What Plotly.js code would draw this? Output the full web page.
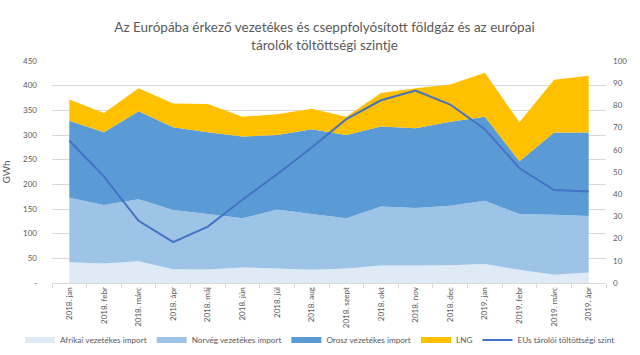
<!DOCTYPE html>
<html>
<head>
<meta charset="utf-8">
<script src="https://cdn.plot.ly/plotly-3.0.1.min.js"></script>
<style>html,body{margin:0;padding:0;background:#fff;}#chart{width:640px;height:355px;}</style>
</head>
<body>
<div id="chart"></div>
<script>
const months = ["2018. jan","2018. febr","2018. márc","2018. ápr","2018. máj","2018. jún","2018. júl","2018. aug","2018. szept","2018. okt","2018. nov","2018. dec","2019. jan","2019. febr","2019. márc","2019. ápr"];
const afrikai = [42, 39.6, 44, 28, 27.4, 31.5, 29.5, 26.8, 29.5, 35.5, 35.5, 36, 38.3, 26.8, 16.7, 21.4];
const norveg  = [130.6, 118.3, 126, 119.8, 112.3, 99.5, 119.5, 113.2, 101.5, 119.5, 116.3, 120.5, 128.2, 112.9, 121.6, 114.3];
const orosz   = [156.4, 147.8, 178, 167.9, 166, 166, 151, 171.7, 169, 162, 161.9, 170.5, 170.5, 107.3, 166.7, 169.3];
const lng     = [43, 39, 47, 48.3, 57.3, 40, 42, 41.7, 37, 68, 81.3, 75.4, 89, 78.8, 107, 115];
const tarolo  = [64.2, 47.9, 28, 18.4, 25.4, 37.5, 49, 61, 73.8, 82.3, 86.7, 80.4, 69.3, 51.7, 41.9, 41.2];
const leftTicks = [0, 50, 100, 150, 200, 250, 300, 350, 400, 450];
const leftTickText = ["-", "50", "100", "150", "200", "250", "300", "350", "400", "450"];

const FONT = "Lato, 'Open Sans', sans-serif";
const GREY = "#595959";

function area(name, y, color, legend) {
  return {type: "scatter", mode: "none", x: months, y: y, name: name, stackgroup: "gas", legend: legend,
          fillcolor: color, line: {width: 0, color: color}, hoverinfo: "skip"};
}

const traces = [
  area("Afrikai vezetékes import", afrikai, "#DEEBF7", "legend"),
  area("Norvég vezetékes import", norveg, "#9DC3E6", "legend"),
  area("Orosz vezetékes import", orosz, "#5B9BD5", "legend"),
  area("LNG", lng, "#FFC000", "legend2"),
  {type: "scatter", mode: "lines", x: months, y: tarolo, name: "EUs tárolói töltöttségi szint", legend: "legend2",
   yaxis: "y2", line: {color: "#4472C4", width: 2}}
];

const legendCommon = {orientation: "h", xanchor: "left", xref: "container", y: 15 / 355, yref: "container",
  yanchor: "middle", bgcolor: "rgba(0,0,0,0)", font: {size: 8.2, color: GREY}, itemwidth: 30,
  tracegroupgap: 0, traceorder: "normal"};

const layout = {
  width: 640, height: 355,
  margin: {l: 52, r: 34, t: 61, b: 72},
  paper_bgcolor: "#ffffff", plot_bgcolor: "#ffffff",
  font: {family: FONT, color: GREY, size: 9},
  title: {text: "Az Európába érkező vezetékes és cseppfolyósított földgáz és az európai<br>tárolók töltöttségi szintje",
          font: {family: FONT, size: 13.5, color: GREY}, x: 0.507, xanchor: "center",
          y: 1 - 32 / 355, yanchor: "middle", yref: "container"},
  showlegend: true,
  legend: Object.assign({}, legendCommon, {x: 20 / 640}),
  legend2: Object.assign({}, legendCommon, {x: 416 / 640}),
  xaxis: {type: "category", range: [-0.5, 15.5], showgrid: false, showline: true, linecolor: "#d9d9d9", linewidth: 1,
          ticks: "outside", tickson: "boundaries", ticklen: 4, tickcolor: "#d9d9d9", tickangle: -90,
          tickfont: {size: 8, color: GREY}, fixedrange: true},
  yaxis: {range: [0, 450], tickvals: leftTicks, ticktext: leftTickText, showgrid: true, gridcolor: "#d9d9d9", gridwidth: 1,
          zeroline: false, showline: false, ticks: "", tickfont: {size: 8, color: GREY}, ticklabelstandoff: 14,
          title: {text: "GWh", font: {size: 10, color: GREY}, standoff: 10}},
  yaxis2: {range: [0, 100], dtick: 10, overlaying: "y", side: "right", showgrid: false, zeroline: false, showline: false,
           ticks: "", tickfont: {size: 8, color: GREY}, ticklabelstandoff: 6}
};

Plotly.newPlot("chart", traces, layout, {staticPlot: true, displayModeBar: false});
</script>
</body>
</html>
